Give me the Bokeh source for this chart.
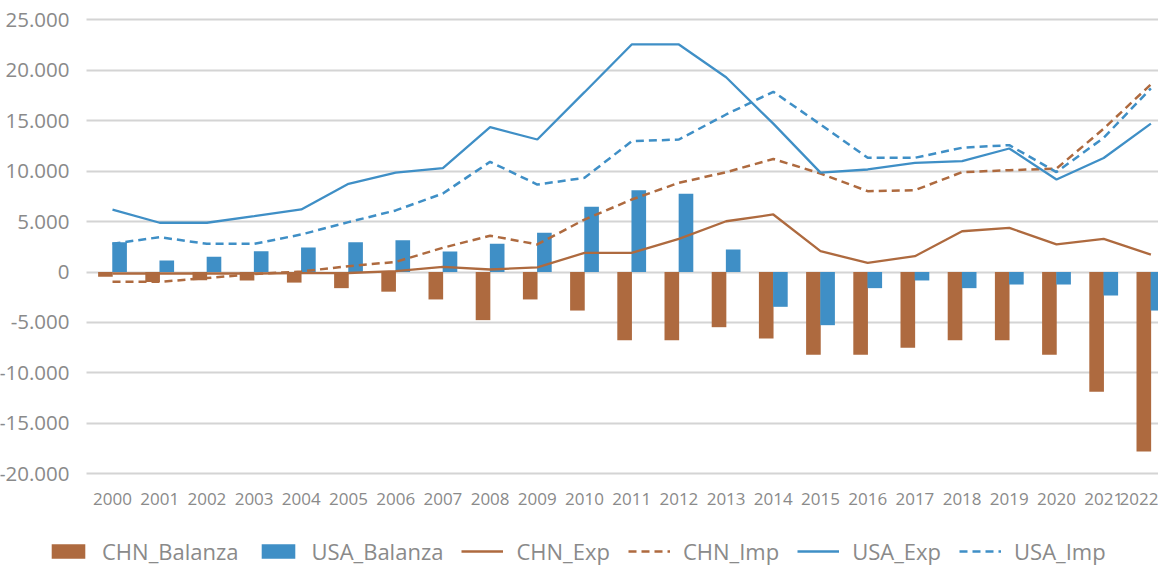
from bokeh.plotting import figure
from bokeh.models import Range1d, FixedTicker, Legend, LegendItem, ColumnDataSource, Grid
from bokeh.transform import dodge
from bokeh.embed import file_html
from bokeh.resources import INLINE

years = [str(y) for y in range(2000, 2023)]

chn_balanza = [-480, -1000, -820, -840, -1050, -1600, -1950, -2720, -4770, -2720, -3820,
               -6760, -6760, -5470, -6590, -8210, -8210, -7510, -6760, -6760, -8210, -11870, -17790]
usa_balanza = [2950, 1140, 1500, 2060, 2430, 2950, 3150, 2030, 2790, 3880, 6460,
               8110, 7750, 2230, -3450, -5270, -1600, -840, -1600, -1240, -1240, -2330, -3820]
chn_exp = [-150, -150, -150, -150, -120, -100, 80, 500, 250, 450, 1900,
           1900, 3290, 5030, 5700, 2060, 910, 1570, 4040, 4380, 2730, 3290, 1730]
chn_imp = [-970, -970, -600, -200, 50, 580, 1000, 2400, 3600, 2730, 5200,
           7180, 8840, 9890, 11200, 9760, 8010, 8110, 9890, 10090, 10250, 14200, 18600]
usa_exp = [6190, 4880, 4880, 5530, 6200, 8740, 9840, 10300, 14350, 13130, 17820,
           22550, 22550, 19300, 14700, 9850, 10160, 10820, 10980, 12240, 9170, 11300, 14700]
usa_imp = [2800, 3450, 2790, 2790, 3720, 4940, 6100, 7780, 10920, 8670, 9330,
           12960, 13130, 15610, 17860, 14620, 11320, 11320, 12310, 12570, 9900, 13300, 18200]

y_ticks = [-20000, -15000, -10000, -5000, 0, 5000, 10000, 15000, 20000, 25000]
y_tick_labels = ["-20.000", "-15.000", "-10.000", "-5.000", "0", "5.000", "10.000", "15.000", "20.000", "25.000"]

BROWN = "#AE6A3F"
BLUE = "#3F8FC6"
TXT = "#8a8a8a"
FONT = "Open Sans"

# plot-area geometry (data units)
X_LEFT, X_RIGHT = -0.551, 22.161     # visible category span of the plot area
Y_BOTTOM_AXIS = -20365               # where the category axis sits

idx = list(range(len(years)))
src = ColumnDataSource(dict(x=idx, chn_b=chn_balanza, usa_b=usa_balanza,
                            chn_e=chn_exp, chn_i=chn_imp, usa_e=usa_exp, usa_i=usa_imp))

p = figure(width=1158, height=566, output_backend="svg", toolbar_location=None,
           x_range=Range1d(-2.373, X_RIGHT), y_range=Range1d(-29185, 26906),
           min_border_left=0, min_border_right=0, min_border_top=0, min_border_bottom=0)
p.outline_line_color = None
p.background_fill_color = "white"
p.border_fill_color = "white"

r_cb = p.vbar(x=dodge("x", -0.15, range=p.x_range), top="chn_b", width=0.31, source=src,
              fill_color=BROWN, line_color=None)
r_ub = p.vbar(x=dodge("x", 0.15, range=p.x_range), top="usa_b", width=0.31, source=src,
              fill_color=BLUE, line_color=None)
r_ce = p.line("x", "chn_e", source=src, line_color=BROWN, line_width=2.3)
r_ci = p.line("x", "chn_i", source=src, line_color=BROWN, line_width=2.5, line_dash="8 5")
r_ue = p.line("x", "usa_e", source=src, line_color=BLUE, line_width=2.3)
r_ui = p.line("x", "usa_i", source=src, line_color=BLUE, line_width=2.5, line_dash="8 5")

# axes
p.xaxis.ticker = FixedTicker(ticks=idx)
p.xaxis.major_label_overrides = {i: y for i, y in zip(idx, years)}
p.xaxis.fixed_location = Y_BOTTOM_AXIS
p.yaxis.ticker = FixedTicker(ticks=y_ticks)
p.yaxis.major_label_overrides = {t: l for t, l in zip(y_ticks, y_tick_labels)}
p.yaxis.fixed_location = X_LEFT
for ax in (p.xaxis[0], p.yaxis[0]):
    ax.axis_line_color = None
    ax.major_tick_line_color = None
    ax.minor_tick_line_color = None
    ax.major_label_text_color = TXT
    ax.major_label_text_font = FONT
p.xaxis.major_label_text_font_size = "17px"
p.xaxis.major_label_standoff = 10
p.yaxis.major_label_text_font_size = "20.5px"
p.yaxis.major_label_standoff = 11

p.xgrid.grid_line_color = None
p.ygrid.grid_line_color = "#d4d4d4"
p.ygrid.grid_line_width = 2
if "cross_bounds" in Grid.properties():
    p.ygrid.cross_bounds = (X_LEFT, X_RIGHT + 1)

labels = ["CHN_Balanza", "USA_Balanza", "CHN_Exp", "CHN_Imp", "USA_Exp", "USA_Imp"]
rends = [r_cb, r_ub, r_ce, r_ci, r_ue, r_ui]
legend = Legend(items=[LegendItem(label=l, renderers=[r]) for l, r in zip(labels, rends)],
                location=(47, 0), orientation="horizontal", padding=0, margin=0, spacing=18,
                glyph_width=42, glyph_height=18, label_height=18, label_standoff=13,
                label_text_font=FONT, label_text_font_size="22px", label_text_color=TXT,
                border_line_color=None, background_fill_alpha=0)
p.add_layout(legend, "center")

open("out.html", "w").write(file_html(p, INLINE))
